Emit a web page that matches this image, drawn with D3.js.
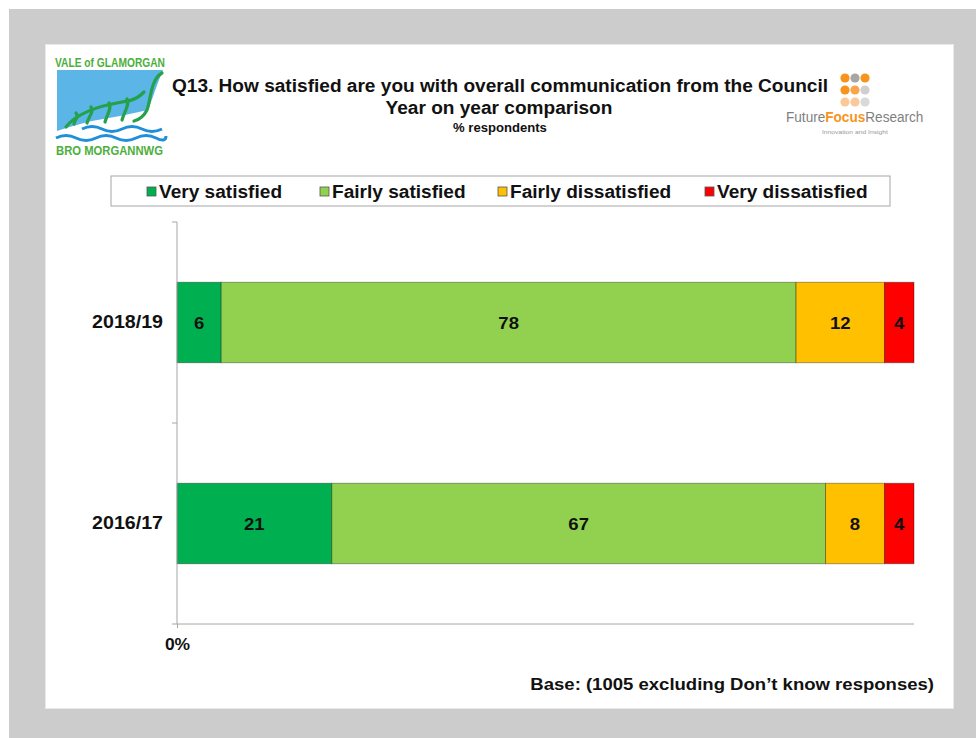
<!DOCTYPE html>
<html>
<head>
<meta charset="utf-8">
<script src="https://cdn.jsdelivr.net/npm/d3@7"></script>
<style>
  html, body { margin: 0; padding: 0; background: #ffffff; }
  svg { display: block; }
  text { font-family: "Liberation Sans", Arial, sans-serif; }
</style>
</head>
<body>
<svg id="chart" width="976" height="738"></svg>
<script>
// Survey results, % of respondents per year
const categories = ["2018/19", "2016/17"];
const seriesNames = ["Very satisfied", "Fairly satisfied", "Fairly dissatisfied", "Very dissatisfied"];
const verySatisfied = [6, 21];
const fairlySatisfied = [78, 67];
const fairlyDissatisfied = [12, 8];
const veryDissatisfied = [4, 4];
const seriesColors = ["#00B050", "#92D050", "#FFC000", "#FF0000"];
const axisTickValues = [0];
const axisTickLabels = ["0%"];

const titleLines = [
  "Q13. How satisfied are you with overall communication from the Council",
  "Year on year comparison"
];
const subtitle = "% respondents";
const baseNote = "Base: (1005 excluding Don\u2019t know responses)";

const seriesValues = [verySatisfied, fairlySatisfied, fairlyDissatisfied, veryDissatisfied];
const rows = categories.map((c, i) => {
  const r = { category: c };
  seriesNames.forEach((s, j) => { r[s] = seriesValues[j][i]; });
  return r;
});

// The slide's typeface runs slightly wide; stretch each label horizontally.
const WIDE = 1.09;
function widen(sel, factor = WIDE) {
  sel.each(function () {
    const w = this.getComputedTextLength();
    d3.select(this).attr("textLength", w * factor).attr("lengthAdjust", "spacingAndGlyphs");
  });
  return sel;
}

const svg = d3.select("#chart");

// Grey frame and white slide
svg.append("rect").attr("x", 9).attr("y", 9).attr("width", 967).attr("height", 729).attr("fill", "#cccccc");
svg.append("rect").attr("x", 45).attr("y", 44).attr("width", 909).attr("height", 665).attr("fill", "#e9e9e9");
svg.append("rect").attr("x", 46).attr("y", 45).attr("width", 907).attr("height", 663).attr("fill", "#ffffff");

// ---- Vale of Glamorgan emblem ----
const logo = svg.append("g");
const logoGreen = "#24a14a";
const logoBlue = "#5bb5e6";
logo.append("text").attr("x", 55).attr("y", 67).attr("font-size", 12).attr("font-weight", "bold")
  .attr("fill", "#4caf3c").attr("textLength", 110).attr("lengthAdjust", "spacingAndGlyphs")
  .text("VALE of GLAMORGAN");
logo.append("path")
  .attr("d", "M57,70 L163,70 C157,84 152,100 148,110 C130,114 110,118 92,121 C80,124 68,127 57,131 Z")
  .attr("fill", logoBlue);
// hillside strokes
logo.append("path")
  .attr("d", "M162,73 C150,80 151,100 147,110 C143,118 138,120 134,121")
  .attr("fill", "none").attr("stroke", logoGreen).attr("stroke-width", 3.2).attr("stroke-linecap", "round");
logo.append("path")
  .attr("d", "M66,127 C76,114 98,106 122,102 C136,100 140,96 144,92")
  .attr("fill", "none").attr("stroke", logoGreen).attr("stroke-width", 3.2).attr("stroke-linecap", "round");
[[127, 99, 122, 120], [109, 103, 105, 122], [91, 107, 87, 123], [76, 113, 74, 124]].forEach(([x1, y1, x2, y2]) => {
  logo.append("path")
    .attr("d", `M${x1},${y1} C${x1 + 3},${y1 + 6} ${x2 + 2},${y2 - 8} ${x2},${y2}`)
    .attr("fill", "none").attr("stroke", logoGreen).attr("stroke-width", 3.2).attr("stroke-linecap", "round");
});
logo.append("path")
  .attr("d", "M82,129 Q92,124 102,129 T122,129 T142,129 T162,129")
  .attr("fill", "none").attr("stroke", "#1e8fd8").attr("stroke-width", 3);
logo.append("path")
  .attr("d", "M56,138 Q66,133 76,138 T96,138 T116,138 T136,138 T156,138 T166,136")
  .attr("fill", "none").attr("stroke", "#1e8fd8").attr("stroke-width", 3);
logo.append("text").attr("x", 56).attr("y", 155).attr("font-size", 12).attr("font-weight", "bold")
  .attr("fill", "#4caf3c").attr("textLength", 107).attr("lengthAdjust", "spacingAndGlyphs")
  .text("BRO MORGANNWG");

// ---- Future Focus Research mark ----
const ffr = svg.append("g");
const dotColors = [
  ["#f7941d", "#a6a6a6", "#f7941d"],
  ["#f7941d", "#f9a64a", "#cfcfcf"],
  ["#fbc899", "#fbc899", "#d9d9d9"]
];
dotColors.forEach((row, r) => row.forEach((c, k) => {
  ffr.append("circle").attr("cx", 845 + k * 10).attr("cy", 78 + r * 12).attr("r", 4.6).attr("fill", c);
}));
// wordmark: words laid end to end, slightly tall
const mark = ffr.append("g").attr("transform", "translate(786,122) scale(1,1.12)");
let mx = 0;
[["Future", "#7f7f7f", "normal"],
 ["Focus", "#f7941d", "bold"],
 ["Research", "#7f7f7f", "normal"]].forEach(([word, col, fw]) => {
  const t = mark.append("text").attr("x", mx).attr("y", 0).attr("font-size", 13.6)
    .attr("fill", col).attr("font-weight", fw).text(word);
  mx += t.node().getComputedTextLength();
});
ffr.append("text").attr("x", 822).attr("y", 134).attr("font-size", 4.5).attr("fill", "#999999")
  .attr("textLength", 66).attr("lengthAdjust", "spacingAndGlyphs").text("Innovation and Insight");

// ---- Titles ----
widen(svg.append("text").attr("x", 500).attr("y", 92).attr("text-anchor", "middle")
  .attr("font-size", 17.5).attr("font-weight", "bold").attr("fill", "#111111").text(titleLines[0]));
widen(svg.append("text").attr("x", 499).attr("y", 114).attr("text-anchor", "middle")
  .attr("font-size", 17.5).attr("font-weight", "bold").attr("fill", "#111111").text(titleLines[1]));
widen(svg.append("text").attr("x", 500).attr("y", 132).attr("text-anchor", "middle")
  .attr("font-size", 12).attr("font-weight", "bold").attr("fill", "#111111").text(subtitle));

// ---- Legend ----
svg.append("rect").attr("x", 111).attr("y", 176).attr("width", 779).attr("height", 30)
  .attr("fill", "#ffffff").attr("stroke", "#a6a6a6").attr("stroke-width", 1);
const legendSlots = [147, 320, 498, 705];
const legend = svg.append("g").selectAll("g").data(seriesNames).join("g")
  .attr("transform", (d, i) => `translate(${legendSlots[i]},0)`);
legend.append("rect").attr("x", 0).attr("y", 187).attr("width", 9).attr("height", 9)
  .attr("fill", (d, i) => seriesColors[i]).attr("stroke", "#555555").attr("stroke-width", 0.8);
widen(legend.append("text").attr("x", 12).attr("y", 197.5)
  .attr("font-size", 18).attr("font-weight", "bold").attr("fill", "#111111").text(d => d), 1.06);

// ---- Chart ----
const x = d3.scaleLinear().domain([0, 100]).range([177, 914]);
const y = d3.scaleBand().domain(categories).range([222, 624]).paddingInner(0.6).paddingOuter(0.3);

const stacked = d3.stack().keys(seriesNames)(rows);

const layers = svg.append("g").selectAll("g").data(stacked).join("g")
  .attr("fill", (d, i) => seriesColors[i]);

layers.selectAll("rect").data(d => d.map(v => ({ v, key: d.key }))).join("rect")
  .attr("x", d => x(d.v[0]))
  .attr("y", d => y(d.v.data.category))
  .attr("width", d => x(d.v[1]) - x(d.v[0]))
  .attr("height", y.bandwidth())
  .attr("stroke", "rgba(0,0,0,0.35)")
  .attr("stroke-width", 1);

widen(layers.selectAll("text").data(d => d.map(v => ({ v, key: d.key }))).join("text")
  .attr("x", d => (x(d.v[0]) + x(d.v[1])) / 2)
  .attr("y", d => y(d.v.data.category) + y.bandwidth() / 2)
  .attr("dy", "0.36em")
  .attr("text-anchor", "middle")
  .attr("font-size", 17).attr("font-weight", "bold").attr("fill", "#111111")
  .text(d => d.v.data[d.key]));

// Value axis along the bottom
const xAxis = d3.axisBottom(x).tickValues(axisTickValues)
  .tickFormat((d, i) => axisTickLabels[i]).tickSize(4).tickPadding(11);
const gx = svg.append("g").attr("transform", "translate(0,624)").call(xAxis);
gx.select(".domain").attr("stroke", "#a6a6a6").attr("d", `M${x(0)},0H${x(100)}`);
gx.selectAll(".tick line").attr("stroke", "#a6a6a6");
widen(gx.selectAll(".tick text").attr("font-size", 16).attr("font-weight", "bold")
  .attr("fill", "#111111").attr("font-family", "Liberation Sans, Arial, sans-serif"));

// Category axis on the left, ticks between categories
const yAxis = d3.axisLeft(y).tickSize(0).tickPadding(14);
const gy = svg.append("g").attr("transform", `translate(${x(0)},0)`).call(yAxis);
gy.select(".domain").attr("stroke", "#a6a6a6").attr("d", "M0,222V624");
widen(gy.selectAll(".tick text").attr("font-size", 18).attr("font-weight", "bold")
  .attr("fill", "#111111").attr("font-family", "Liberation Sans, Arial, sans-serif"));
const step = y.step();
const boundaries = d3.range(categories.length + 1).map(i => 222 + i * step);
gy.selectAll("line.sep").data(boundaries).join("line").attr("class", "sep")
  .attr("x1", -5).attr("x2", 0).attr("y1", d => d).attr("y2", d => d)
  .attr("stroke", "#a6a6a6");

// Base note
widen(svg.append("text").attr("x", 934).attr("y", 690).attr("text-anchor", "end")
  .attr("font-size", 17).attr("font-weight", "bold").attr("fill", "#111111").text(baseNote));
</script>
</body>
</html>
